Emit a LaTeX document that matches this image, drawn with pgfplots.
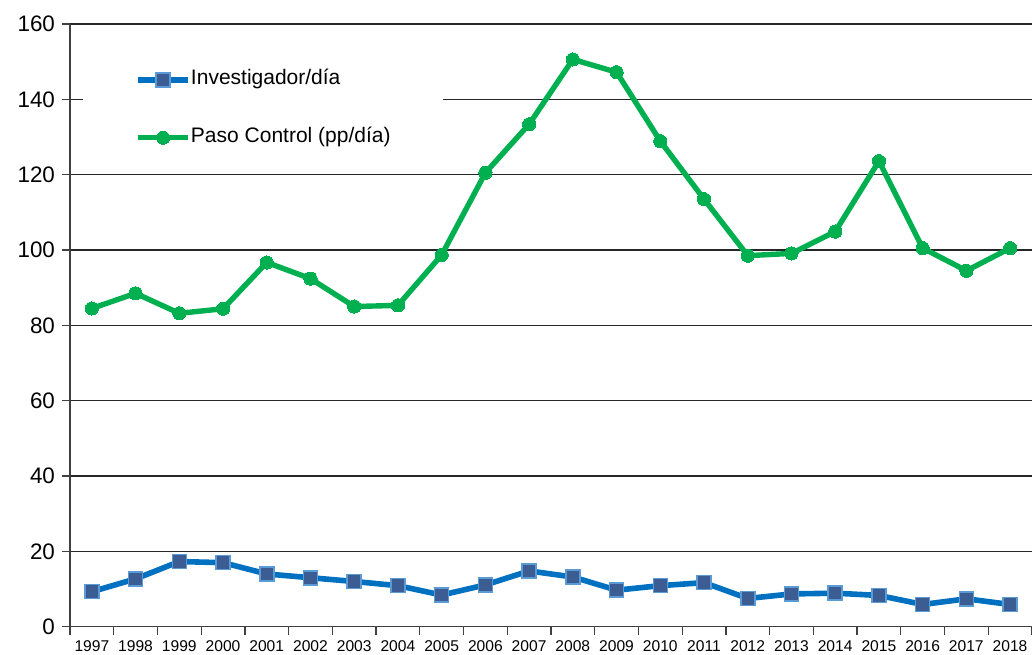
\documentclass[border=0pt]{standalone}
\usepackage{pgfplots}
\pgfplotsset{compat=1.18}
\usepackage{fontspec}
\setmainfont{Liberation Sans}
\definecolor{invblue}{HTML}{0070C0}
\definecolor{invmark}{HTML}{3C5D94}
\definecolor{invedge}{HTML}{5B9BD5}
\definecolor{pasogreen}{HTML}{00B050}

\begin{document}
\begin{tikzpicture}
\begin{axis}[
  name=ax,
  scale only axis,
  width=481pt, height=301.35pt,
  xmin=1996.5, xmax=2018.5,
  ymin=0, ymax=160,
  ytick={0,20,...,160},
  xtick={1996.5,1997.5,...,2018.5},
  xticklabels={},
  extra x ticks={1997,...,2018},
  extra x tick style={major tick length=0pt},
  axis lines*=left,
  axis line style={black!75, line width=0.6pt},
  ymajorgrids,
  major grid style={black!85, line width=0.6pt},
  tick align=outside,
  major tick length=4pt,
  tick style={black!75, line width=0.6pt},
  /pgf/number format/assume math mode=true,
  /pgf/number format/1000 sep={},
  yticklabel style={font=\fontsize{11.2}{13}\selectfont},
  xticklabel style={font=\fontsize{7.8}{9}\selectfont, yshift=-3.5pt},
  clip=false,
  legend cell align=left,
  legend style={at={(0.0135,0.958)}, anchor=north west, draw=none, fill=white,
    inner xsep=26pt, inner ysep=10pt, row sep=19pt, column sep=0pt,
    font=\fontsize{10.5}{12}\selectfont,
    nodes={inner sep=0pt, text height=7.5pt, text depth=2.5pt}},
  legend image code/.code={\draw[mark repeat=2,mark phase=2] plot coordinates {(0pt,0pt) (12.5pt,0pt) (25pt,0pt)};},
]
\addplot[invblue, line width=2.8pt, mark=square*, mark size=3.5pt,
  mark options={fill=invmark, draw=invedge, line width=0.8pt}]
  coordinates {(1997,9.3) (1998,12.7) (1999,17.3) (2000,17.0) (2001,14.0) (2002,13.0)
  (2003,12.0) (2004,10.9) (2005,8.4) (2006,11.1) (2007,14.8) (2008,13.2) (2009,9.7)
  (2010,10.9) (2011,11.7) (2012,7.5) (2013,8.7) (2014,8.9) (2015,8.3) (2016,5.9)
  (2017,7.4) (2018,5.9)};
\addlegendentry{Investigador/día}
\addplot[pasogreen, line width=2.7pt, mark=*, mark size=3.3pt,
  mark options={fill=pasogreen, draw=pasogreen, line width=0pt}]
  coordinates {(1997,84.5) (1998,88.5) (1999,83.2) (2000,84.4) (2001,96.7) (2002,92.4)
  (2003,85.0) (2004,85.3) (2005,98.7) (2006,120.5) (2007,133.4) (2008,150.6) (2009,147.2)
  (2010,128.9) (2011,113.5) (2012,98.5) (2013,99.1) (2014,104.9) (2015,123.6) (2016,100.5)
  (2017,94.5) (2018,100.5)};
\addlegendentry{Paso Control (pp/día)}
\end{axis}
\pgfresetboundingbox
\path ([shift={(-35pt,-13.65pt)}]ax.south west) rectangle ([shift={(0pt,12pt)}]ax.north east);
\end{tikzpicture}
\end{document}
